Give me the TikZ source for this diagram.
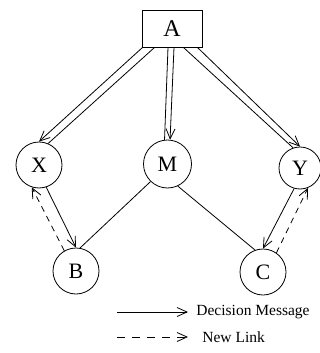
\documentclass[tikz,border=0pt]{standalone}
\usepackage{fontspec}
\setmainfont{Liberation Serif}
\usetikzlibrary{arrows.meta,calc}
\begin{document}
\begin{tikzpicture}[x=1pt,y=1pt,line width=0.8pt,
  circ/.style={draw,circle,inner sep=0pt,minimum size=46pt,font=\fontsize{22}{22}\selectfont},
  boxnode/.style={draw,rectangle,inner sep=0pt,minimum width=60pt,minimum height=37pt,font=\fontsize{24}{24}\selectfont},
  tip/.style={-{Straight Barb[length=10pt,width=9pt,line width=0.8pt]}},
  dashedline/.style={dash pattern=on 6pt off 5pt},
  legtext/.style={anchor=west,inner sep=0pt,font=\fontsize{15.5}{15.5}\selectfont}]
\useasboundingbox (0,0) rectangle (320,-353);
\node[boxnode] (A) at (172,-28.5) {A};
\node[circ] (X) at (39,-165) {X};
\node[circ,minimum size=48pt] (M) at (167.5,-164) {M};
\node[circ,minimum size=42pt] (Y) at (300,-168) {Y};
\node[circ] (B) at (76,-271) {B};
\node[circ] (C) at (263,-272) {C};
% A to X
\draw[tip] ($(A.south west)+(1,0)$) -- (X.north);
\draw ($(A.south west)+(13,0)$) -- (X.67);
% A to M
\draw ($(A.south)+(-4,0)$) -- (M.97);
\draw[tip] ($(A.south)+(2,0)$) -- (M.84);
% A to Y
\draw[tip] ($(A.south east)+(-5,0)$) -- (Y.north);
\draw ($(A.south east)+(-19,0)$) -- (Y.109);
% X and B
\draw[tip] (X.-72) -- (B.north);
\draw[tip,dashedline] (B.120) -- (X.-108);
% Y and C
\draw[tip] (Y.-106) -- (C.north);
\draw[tip,dashedline] (C.55) -- (Y.-68);
% M to B, C
\draw (M.-134) -- (B.80);
\draw (M.-65) -- (C.110);
% legend
\coordinate (l1s) at (117,-312);
\coordinate (l1e) at (188,-312);
\coordinate (l2s) at (117,-337);
\coordinate (l2e) at (188,-337);
\draw[tip] (l1s) -- (l1e);
\draw[tip,dash pattern=on 8pt off 7pt] (l2s) -- (l2e);
\node[legtext] (t1) at (196,-312) {Decision Message};
\node[legtext] (t2) at (202,-337) {New Link};
\end{tikzpicture}
\end{document}
